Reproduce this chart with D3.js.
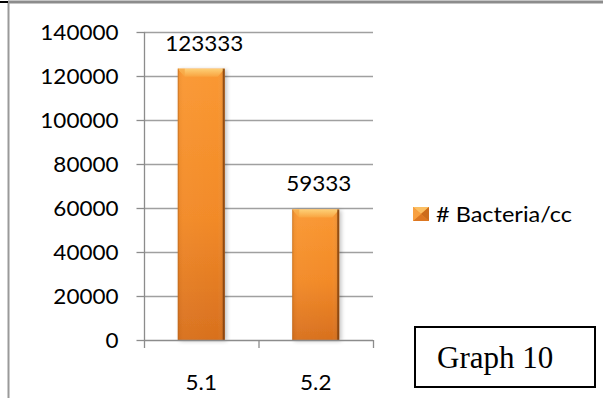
<!DOCTYPE html>
<html>
<head>
<meta charset="utf-8">
<script src="https://cdn.jsdelivr.net/npm/d3@7"></script>
<style>
  html, body { margin: 0; padding: 0; background: #fff; }
  svg { display: block; }
</style>
</head>
<body>
<script>
// Chart data
const categories = ["5.1", "5.2"];
const values = [123333, 59333];
const seriesName = "# Bacteria/cc";
const yTicks = [0, 20000, 40000, 60000, 80000, 100000, 120000, 140000];
const caption = "Graph 10";

const W = 603, H = 398;
const sansFont = "Lato, 'Open Sans', sans-serif";
const stretch = 1.07;

const svg = d3.select("body").append("svg")
  .attr("width", W).attr("height", H);

const defs = svg.append("defs");

// bar body: vertical fade from bright orange to burnt orange
const gBody = defs.append("linearGradient").attr("id", "barBody")
  .attr("x1", 0).attr("y1", 0).attr("x2", 0).attr("y2", 1);
gBody.append("stop").attr("offset", "0%").attr("stop-color", "#fa9832");
gBody.append("stop").attr("offset", "55%").attr("stop-color", "#f28a28");
gBody.append("stop").attr("offset", "100%").attr("stop-color", "#d8701e");

const gSide = defs.append("linearGradient").attr("id", "barSide")
  .attr("x1", 0).attr("y1", 0).attr("x2", 1).attr("y2", 0);
gSide.append("stop").attr("offset", "0%").attr("stop-color", "#000").attr("stop-opacity", 0.05);
gSide.append("stop").attr("offset", "12%").attr("stop-color", "#fff").attr("stop-opacity", 0.03);
gSide.append("stop").attr("offset", "85%").attr("stop-color", "#fff").attr("stop-opacity", 0.0);
gSide.append("stop").attr("offset", "100%").attr("stop-color", "#000").attr("stop-opacity", 0.12);

const gTop = defs.append("linearGradient").attr("id", "barTop")
  .attr("x1", 0).attr("y1", 0).attr("x2", 0).attr("y2", 1);
gTop.append("stop").attr("offset", "0%").attr("stop-color", "#fdd077");
gTop.append("stop").attr("offset", "100%").attr("stop-color", "#f9a440");

const shadow = defs.append("filter").attr("id", "shadow")
  .attr("x", "-30%").attr("y", "-10%").attr("width", "160%").attr("height", "120%");
shadow.append("feGaussianBlur").attr("in", "SourceAlpha").attr("stdDeviation", 2.2);
shadow.append("feOffset").attr("dx", 2).attr("dy", 1).attr("result", "b");
shadow.append("feComponentTransfer").append("feFuncA").attr("type", "linear").attr("slope", 0.25);
const fm = shadow.append("feMerge");
fm.append("feMergeNode");
fm.append("feMergeNode").attr("in", "SourceGraphic");

// helper for horizontally widened sans text
function sansText(sel, x, y, txt, size, anchor, sx) {
  return sel.append("text")
    .attr("transform", `translate(${x},${y}) scale(${sx || stretch},1)`)
    .attr("text-anchor", anchor || "start")
    .attr("font-family", sansFont)
    .attr("font-size", size)
    .attr("fill", "#000")
    .text(txt);
}

// outer chart frame
svg.append("line").attr("x1", 8).attr("x2", W).attr("y1", 2).attr("y2", 2)
  .attr("stroke", "#8c8c8c").attr("stroke-width", 3);
svg.append("line").attr("x1", 8.5).attr("x2", 8.5).attr("y1", 1).attr("y2", H)
  .attr("stroke", "#9a9a9a").attr("stroke-width", 2);
svg.append("line").attr("x1", 0).attr("x2", 8).attr("y1", 2).attr("y2", 2)
  .attr("stroke", "#000").attr("stroke-width", 2);

// scales
const plot = { left: 144, right: 373, top: 32, bottom: 340 };
const y = d3.scaleLinear().domain([0, 140000]).range([plot.bottom, plot.top]);
const x = d3.scaleBand().domain(categories).range([plot.left, plot.right]).paddingInner(0).paddingOuter(0);
const barW = x.bandwidth() * 0.41;

// gridlines
svg.append("g").selectAll("line").data(yTicks.filter(d => d > 0)).join("line")
  .attr("x1", plot.left).attr("x2", plot.right)
  .attr("y1", d => Math.round(y(d)) + 0.5).attr("y2", d => Math.round(y(d)) + 0.5)
  .attr("stroke", "#a0a0a0").attr("stroke-width", 1.3);

// y axis
const yAxis = svg.append("g").attr("transform", `translate(${plot.left + 0.5},0)`)
  .call(d3.axisLeft(y).tickValues(yTicks).tickSize(8).tickFormat(d3.format("d")));
yAxis.select(".domain").attr("stroke", "#8c8c8c").attr("stroke-width", 1.3)
  .attr("d", `M0,${plot.top}V${plot.bottom}`);
yAxis.selectAll(".tick line").attr("stroke", "#8c8c8c").attr("stroke-width", 1.3);
yAxis.selectAll(".tick text").remove();
yAxis.selectAll(".tick").each(function (d) {
  sansText(d3.select(this), -26, 7.5, d3.format("d")(d), 21, "end");
});

// bars
const bars = svg.append("g").selectAll("g").data(values).join("g")
  .attr("transform", (d, i) => `translate(${x(categories[i]) + (x.bandwidth() - barW) / 2},${y(d)})`);
bars.append("rect").attr("x", 0).attr("y", 0).attr("width", barW)
  .attr("height", d => y(0) - y(d)).attr("fill", "url(#barBody)").attr("filter", "url(#shadow)");
bars.append("rect").attr("x", 0).attr("y", 0).attr("width", barW)
  .attr("height", d => y(0) - y(d)).attr("fill", "url(#barSide)");
// top bevel
bars.append("path").attr("d", `M0,0H${barW}L${barW - 7},8H7Z`).attr("fill", "url(#barTop)");
bars.append("path").attr("d", `M0,0L7,8V0Z`).attr("fill", "#f7a440").attr("opacity", 0.7);
// edges
bars.append("rect").attr("x", barW - 2).attr("y", 0).attr("width", 2)
  .attr("height", d => y(0) - y(d)).attr("fill", "#7e3f0e").attr("opacity", 0.8);
bars.append("rect").attr("x", 0).attr("y", 0).attr("width", 1)
  .attr("height", d => y(0) - y(d)).attr("fill", "#b8651e").attr("opacity", 0.5);

// x axis
const xAxisG = svg.append("g");
xAxisG.append("line").attr("x1", plot.left).attr("x2", plot.right)
  .attr("y1", plot.bottom + 0.5).attr("y2", plot.bottom + 0.5)
  .attr("stroke", "#8c8c8c").attr("stroke-width", 1.3);
const xTickPos = [plot.left, ...categories.map(c => x(c) + x.bandwidth())];
xAxisG.selectAll("line.t").data(xTickPos).join("line").attr("class", "t")
  .attr("x1", d => d + 0.5).attr("x2", d => d + 0.5)
  .attr("y1", plot.bottom).attr("y2", plot.bottom + 8)
  .attr("stroke", "#8c8c8c").attr("stroke-width", 1.3);
categories.forEach(c => {
  sansText(svg, x(c) + x.bandwidth() / 2, 390, c, 21, "middle");
});

// value labels
values.forEach((v, i) => {
  sansText(svg, x(categories[i]) + x.bandwidth() / 2 + 3, y(v) - 18, String(v), 21, "middle");
});

// legend
const lg = svg.append("g").attr("transform", "translate(413,207)");
lg.append("rect").attr("width", 16).attr("height", 14).attr("fill", "#f28a28");
lg.append("path").attr("d", "M0,0H16L8,7Z").attr("fill", "#fbbf63");
lg.append("path").attr("d", "M16,0V14L8,7Z").attr("fill", "#cc6c1c");
lg.append("path").attr("d", "M0,14H16L8,7Z").attr("fill", "#dc7722");
lg.append("path").attr("d", "M0,0V14L8,7Z").attr("fill", "#f8a040");
sansText(svg, 436, 222, seriesName, 21, "start", 1.12);

// caption box
svg.append("rect").attr("x", 415).attr("y", 327).attr("width", 180).attr("height", 60)
  .attr("fill", "#fff").attr("stroke", "#000").attr("stroke-width", 2);
svg.append("text").attr("x", 437).attr("y", 368)
  .attr("font-family", "'Liberation Serif', 'Times New Roman', serif")
  .attr("font-size", 31).attr("fill", "#000").text(caption);
</script>
</body>
</html>
